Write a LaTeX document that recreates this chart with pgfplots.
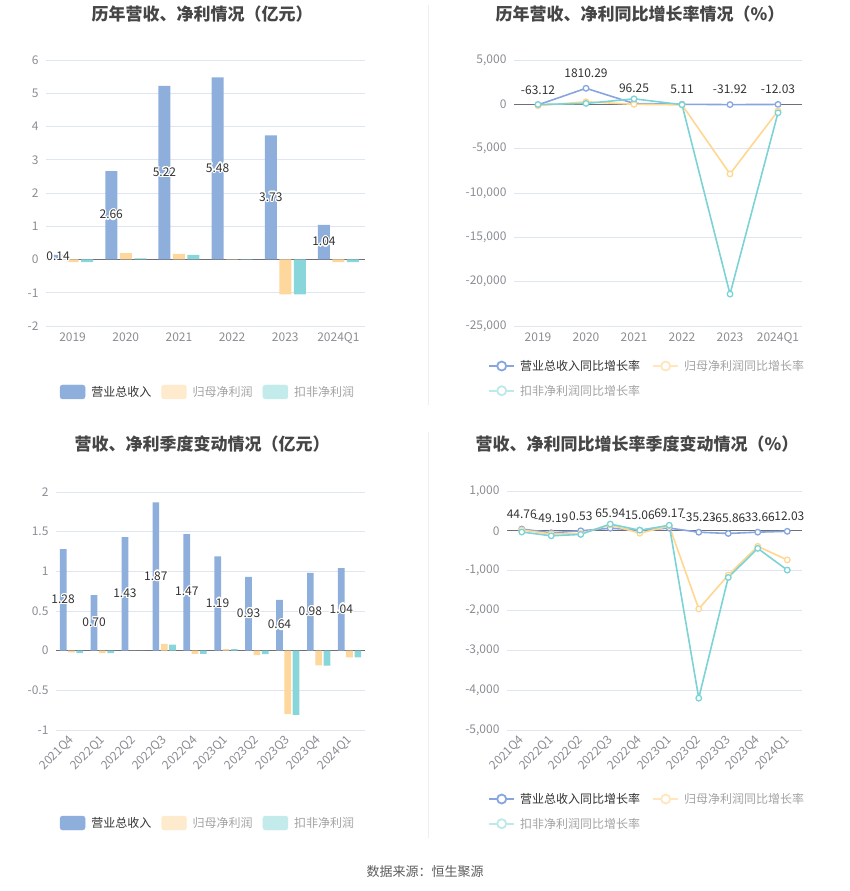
\documentclass[border=0pt]{standalone}
\usepackage{fontspec}
\setmainfont{Noto Sans CJK SC}
\usepackage{pgfplots}
\pgfplotsset{compat=1.18}
\usepackage{contour}
\contourlength{1.2pt}

\definecolor{barblue}{HTML}{8EAEDC}
\definecolor{baryel}{HTML}{FED79C}
\definecolor{barteal}{HTML}{88D6D9}
\definecolor{lineblue}{HTML}{87A5DF}
\definecolor{lineyel}{HTML}{FFD791}
\definecolor{lineteal}{HTML}{7CD3D6}
\definecolor{legyel}{HTML}{FEEBCD}
\definecolor{legteal}{HTML}{C3EBEC}
\definecolor{legyelline}{HTML}{FFE6BE}
\definecolor{legtealline}{HTML}{BDE9EB}
\definecolor{gridc}{HTML}{E0E6F1}
\definecolor{zeroc}{HTML}{6E7079}
\definecolor{tickc}{HTML}{8A8D93}
\definecolor{titlec}{HTML}{464646}
\definecolor{txtdark}{HTML}{333333}
\definecolor{txtgrey}{HTML}{A3A3A3}
\definecolor{divc}{HTML}{EEEEEE}

\pgfplotsset{
  panel/.style={
    scale only axis, clip=false,
    axis line style={draw=none},
    major tick length=0pt,
    ymajorgrids,
    grid style={draw=gridc, line width=0.8pt},
    extra y ticks={0},
    extra y tick labels={},
    extra y tick style={grid=major, grid style={draw=zeroc, line width=1pt}},
    tick label style={font=\fontsize{12}{12}\selectfont, text=tickc},
    /pgf/number format/assume math mode=true,
    scaled y ticks=false,
    yticklabel style={xshift=-4pt},
    xticklabel style={yshift=-3pt},
    enlargelimits=false,
    legend cell align=left,
  },
  % value label in the middle of the bar, over the bar's own x position
  barlabel/.style={
    nodes near coords={\contour{white}{\pgfmathprintnumber[fixed,fixed zerofill,precision=2]{\pgfplotspointmeta}}},
    visualization depends on=y \as \rawy,
    every node near coord/.append style={font=\fontsize{12}{12}\selectfont, text=txtdark,
      anchor=center, xshift=#1, shift={(axis direction cs:0,-\rawy/2)}},
  },
  ratelabel/.style={
    nodes near coords={\pgfmathprintnumber[fixed,fixed zerofill,precision=2,1000 sep={}]{\pgfplotspointmeta}},
    every node near coord/.append style={font=\fontsize{12}{12}\selectfont, text=txtdark,
      anchor=center, yshift=15pt},
  },
  rate/.style={line width=1.6pt, draw=#1, mark=*, mark size=2.8pt,
    mark options={draw=#1, fill=white, line width=1.3pt, solid}},
  barleg/.style={legend columns=3,
    legend style={at={#1}, anchor=center, draw=none, fill=none, inner sep=0pt,
      font=\fontsize{12}{12}\selectfont, nodes={inner sep=0pt},
      /tikz/every odd column/.append style={column sep=6pt},
      /tikz/every even column/.append style={column sep=10pt}}},
  rateleg/.style={legend columns=2,
    legend style={at={#1}, anchor=north west, draw=none, fill=none, inner sep=0pt,
      row sep=13pt, font=\fontsize{12}{12}\selectfont, nodes={inner sep=0pt},
      /tikz/every odd column/.append style={column sep=5pt},
      /tikz/every even column/.append style={column sep=12pt}}},
}

\newcommand{\barimg}[1]{\addlegendimage{legend image code/.code={\fill[#1, rounded corners=2.5pt] (0pt,-7pt) rectangle (25pt,7pt);}}}
\newcommand{\lineimg}[1]{\addlegendimage{legend image code/.code={\draw[#1, line width=2pt] (0pt,0pt) -- (25pt,0pt); \draw[#1, line width=1.8pt, fill=white] (12.5pt,0pt) circle (4.5pt);}}}

\begin{document}
\begin{tikzpicture}[x=1pt,y=1pt]
\path[use as bounding box] (0,0) rectangle (850,891);

% dividers
\draw[divc, line width=1pt] (428,886) -- (428,486);
\draw[divc, line width=1pt] (428,459) -- (428,53);

% titles
\node[font=\fontsize{17}{20}\selectfont\bfseries, text=titlec] at (202,877) {历年营收、净利情况（亿元）};
\node[font=\fontsize{17}{20}\selectfont\bfseries, text=titlec] at (640,877) {历年营收、净利同比增长率情况（\%）};
\node[font=\fontsize{17}{20}\selectfont\bfseries, text=titlec] at (202,447) {营收、净利季度变动情况（亿元）};
\node[font=\fontsize{17}{20}\selectfont\bfseries, text=titlec] at (637,447) {营收、净利同比增长率季度变动情况（\%）};
\node[font=\fontsize{13}{15}\selectfont, text=txtdark!80] at (425,19) {数据来源：恒生聚源};

% ---------- top left: annual revenue / profit ----------
\begin{axis}[panel, at={(46pt,565pt)}, anchor=south west, width=319pt, height=266pt,
  xmin=-0.5, xmax=5.5, ymin=-2, ymax=6, ytick={-2,-1,...,6},
  xtick={0,...,5}, xticklabels={2019,2020,2021,2022,2023,2024Q1},
  barleg={(0.5047,-0.248)}]
\addplot[ybar, bar width=12pt, bar shift=-14.5pt, fill=barblue, draw=none, forget plot, barlabel=-14.5pt]
  coordinates {(0,0.14) (1,2.66) (2,5.22) (3,5.48) (4,3.73) (5,1.04)};
\addplot[ybar, bar width=12pt, bar shift=0pt, fill=baryel, draw=none, forget plot]
  coordinates {(0,-0.08) (1,0.19) (2,0.17) (3,0.01) (4,-1.05) (5,-0.08)};
\addplot[ybar, bar width=12pt, bar shift=14.5pt, fill=barteal, draw=none, forget plot]
  coordinates {(0,-0.08) (1,0.03) (2,0.14) (3,-0.005) (4,-1.05) (5,-0.08)};
\barimg{barblue}\addlegendentry{\textcolor{txtdark}{营业总收入}}
\barimg{legyel}\addlegendentry{\textcolor{txtgrey}{归母净利润}}
\barimg{legteal}\addlegendentry{\textcolor{txtgrey}{扣非净利润}}
\end{axis}

% ---------- top right: annual growth rates ----------
\begin{axis}[panel, at={(514pt,565pt)}, anchor=south west, width=288pt, height=266pt,
  xmin=-0.5, xmax=5.5, ymin=-25000, ymax=5000, ytick={-25000,-20000,...,5000},
  xtick={0,...,5}, xticklabels={2019,2020,2021,2022,2023,2024Q1},
  rateleg={(-0.0903,-0.1278)}]
\addplot[rate=lineblue, forget plot, ratelabel]
  coordinates {(0,-63.12) (1,1810.29) (2,96.25) (3,5.11) (4,-31.92) (5,-12.03)};
\addplot[rate=lineyel, forget plot]
  coordinates {(0,-150) (1,290) (2,0) (3,-60) (4,-7850) (5,-740)};
\addplot[rate=lineteal, forget plot]
  coordinates {(0,-20) (1,100) (2,620) (3,-40) (4,-21400) (5,-950)};
\lineimg{lineblue}\addlegendentry{\textcolor{txtdark}{营业总收入同比增长率}}
\lineimg{legyelline}\addlegendentry{\textcolor{txtgrey}{归母净利润同比增长率}}
\lineimg{legtealline}\addlegendentry{\textcolor{txtgrey}{扣非净利润同比增长率}}
\end{axis}

% ---------- bottom left: quarterly revenue / profit ----------
\begin{axis}[panel, at={(56pt,161pt)}, anchor=south west, width=309pt, height=238pt,
  xmin=-0.5, xmax=9.5, ymin=-1, ymax=2, ytick={-1,-0.5,...,2},
  xtick={0,...,9},
  xticklabels={2021Q4,2022Q1,2022Q2,2022Q3,2022Q4,2023Q1,2023Q2,2023Q3,2023Q4,2024Q1},
  xticklabel style={rotate=45, anchor=east, yshift=-4pt},
  barleg={(0.4887,-0.3908)}]
\addplot[ybar, bar width=6.7pt, bar shift=-8.3pt, fill=barblue, draw=none, forget plot, barlabel=-8.3pt]
  coordinates {(0,1.28) (1,0.70) (2,1.43) (3,1.87) (4,1.47) (5,1.19) (6,0.93) (7,0.64) (8,0.98) (9,1.04)};
\addplot[ybar, bar width=6.7pt, bar shift=0pt, fill=baryel, draw=none, forget plot]
  coordinates {(0,-0.02) (1,-0.03) (2,0.002) (3,0.085) (4,-0.04) (5,0.02) (6,-0.055) (7,-0.80) (8,-0.185) (9,-0.085)};
\addplot[ybar, bar width=6.7pt, bar shift=8.3pt, fill=barteal, draw=none, forget plot]
  coordinates {(0,-0.03) (1,-0.03) (2,0.002) (3,0.075) (4,-0.04) (5,0.02) (6,-0.045) (7,-0.81) (8,-0.19) (9,-0.085)};
\barimg{barblue}\addlegendentry{\textcolor{txtdark}{营业总收入}}
\barimg{legyel}\addlegendentry{\textcolor{txtgrey}{归母净利润}}
\barimg{legteal}\addlegendentry{\textcolor{txtgrey}{扣非净利润}}
\end{axis}

% ---------- bottom right: quarterly growth rates ----------
\begin{axis}[panel, at={(507pt,161pt)}, anchor=south west, width=295pt, height=239pt,
  xmin=-0.5, xmax=9.5, ymin=-5000, ymax=1000, ytick={-5000,-4000,...,1000},
  xtick={0,...,9},
  xticklabels={2021Q4,2022Q1,2022Q2,2022Q3,2022Q4,2023Q1,2023Q2,2023Q3,2023Q4,2024Q1},
  xticklabel style={rotate=45, anchor=east, yshift=-4pt},
  rateleg={(-0.0644,-0.2636)}]
\addplot[rate=lineblue, forget plot, ratelabel]
  coordinates {(0,44.76) (1,-49.19) (2,0.53) (3,65.94) (4,15.06) (5,69.17) (6,-35.23) (7,-65.86) (8,-33.66) (9,-12.03)};
\addplot[rate=lineyel, forget plot]
  coordinates {(0,20) (1,-80) (2,-70) (3,150) (4,-60) (5,120) (6,-1960) (7,-1110) (8,-390) (9,-730)};
\addplot[rate=lineteal, forget plot]
  coordinates {(0,-30) (1,-125) (2,-90) (3,170) (4,15) (5,140) (6,-4200) (7,-1170) (8,-440) (9,-985)};
\lineimg{lineblue}\addlegendentry{\textcolor{txtdark}{营业总收入同比增长率}}
\lineimg{legyelline}\addlegendentry{\textcolor{txtgrey}{归母净利润同比增长率}}
\lineimg{legtealline}\addlegendentry{\textcolor{txtgrey}{扣非净利润同比增长率}}
\end{axis}
\end{tikzpicture}
\end{document}
